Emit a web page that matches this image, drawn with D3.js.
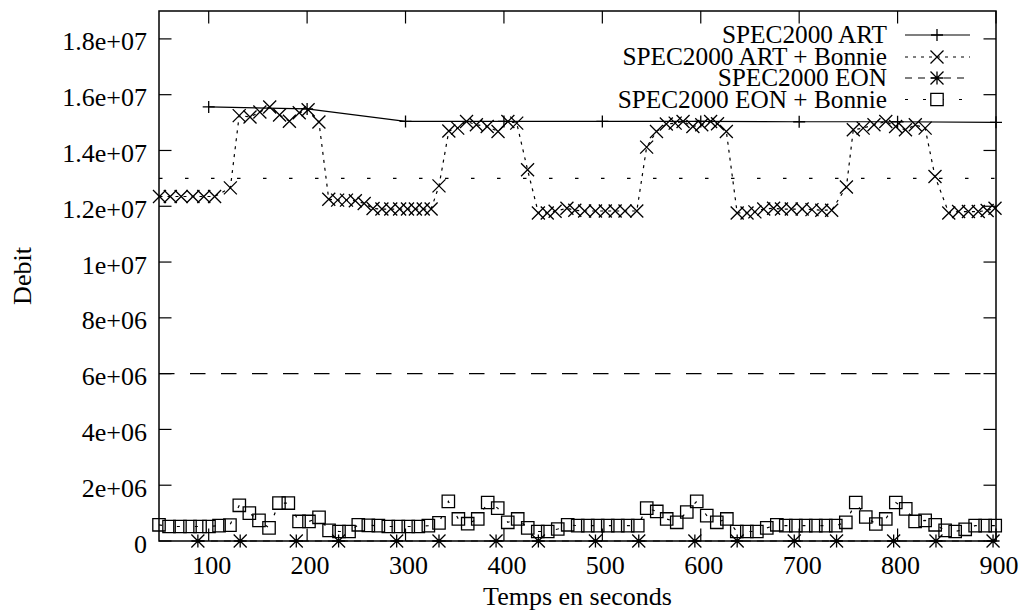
<!DOCTYPE html>
<html><head><meta charset="utf-8">
<script src="https://cdn.jsdelivr.net/npm/d3@7"></script>
<style>
body{margin:0;background:#fff}
text{font-family:"Liberation Serif","Times New Roman",serif;fill:#000}
</style>
</head><body>
<svg id="chart" width="1020" height="612"></svg>
<script>
// ---------------- data ----------------
const seriesNames = ["SPEC2000 ART", "SPEC2000 ART + Bonnie", "SPEC2000 EON", "SPEC2000 EON + Bonnie"];

const xTickValues = [100, 200, 300, 400, 500, 600, 700, 800, 900];
const yTickValues = [0, 2e6, 4e6, 6e6, 8e6, 1e7, 1.2e7, 1.4e7, 1.6e7, 1.8e7];
const yTickLabels = ["0", "2e+06", "4e+06", "6e+06", "8e+06", "1e+07", "1.2e+07", "1.4e+07", "1.6e+07", "1.8e+07"];

// SPEC2000 ART  [time, debit]
const art = [[100,1.556e7],[200,1.549e7],[300,1.504e7],[400,1.504e7],[500,1.504e7],
             [600,1.504e7],[700,1.503e7],[800,1.503e7],[900,1.501e7]];

// SPEC2000 ART + Bonnie
const artBonnie = [
 [50,1.235e7],[61,1.235e7],[72,1.235e7],[84,1.235e7],[95,1.235e7],[106,1.235e7],
 [122,1.266e7],
 [131,1.525e7],[142,1.52e7],[152,1.538e7],[162,1.556e7],[172,1.527e7],[182,1.505e7],[192,1.535e7],[201,1.546e7],[212,1.502e7],
 [222,1.225e7],[231,1.222e7],[240,1.222e7],[249,1.22e7],[258,1.21e7],
 [267,1.192e7],[276,1.19e7],[285,1.19e7],[294,1.19e7],[302,1.19e7],[310,1.19e7],[318,1.19e7],[326,1.19e7],
 [334,1.273e7],
 [344,1.47e7],[353,1.48e7],[362,1.504e7],[372,1.492e7],[383,1.486e7],[394,1.468e7],[404,1.504e7],[413,1.498e7],
 [424,1.331e7],
 [435,1.176e7],[444,1.176e7],[452,1.182e7],[464,1.193e7],[472,1.186e7],[482,1.183e7],[493,1.183e7],[503,1.183e7],[513,1.183e7],[523,1.183e7],[535,1.183e7],
 [545,1.412e7],
 [555,1.468e7],[565,1.495e7],[574,1.498e7],[582,1.504e7],[592,1.486e7],[601,1.492e7],[610,1.504e7],[617,1.496e7],[626,1.468e7],
 [637,1.176e7],[647,1.176e7],[655,1.18e7],[664,1.19e7],[674,1.193e7],[682,1.19e7],[692,1.19e7],[703,1.19e7],[713,1.188e7],[723,1.186e7],[733,1.186e7],
 [748,1.269e7],
 [755,1.474e7],[765,1.48e7],[776,1.492e7],[788,1.504e7],[798,1.486e7],[808,1.474e7],[818,1.492e7],[828,1.48e7],
 [838,1.307e7],
 [852,1.176e7],[862,1.181e7],[872,1.181e7],[882,1.181e7],[891,1.185e7],[899,1.193e7]
];

// SPEC2000 EON
const eon = [[89,0],[132,0],[189,0],[232,0],[291,0],[334,0],[392,0],[435,0],[493,0],
             [537,0],[594,0],[637,0],[695,0],[738,0],[796,0],[839,0],[897,0]];

// SPEC2000 EON + Bonnie
const eonBonnie = [
 [49.5,5.8e5],[59.7,5.2e5],[70.8,5.2e5],[81,5.2e5],[91.2,5.2e5],[100.3,5.2e5],[110.5,5.5e5],[121.6,5.7e5],
 [131.1,1.28e6],[141.3,1.0e6],[151.1,7.4e5],[161.3,4.7e5],[171.4,1.36e6],[180.9,1.36e6],[191.8,7.0e5],[201.9,7.0e5],
 [212.1,8.5e5],[222.3,3.8e5],[232.4,3.4e5],[242.6,3.4e5],[252,5.8e5],[262.2,5.6e5],[272.4,5.5e5],[282.5,5.2e5],
 [292.7,5.2e5],[302.8,5.2e5],[313,5.2e5],[323.2,5.5e5],
 [334,6.5e5],[343.5,1.42e6],[353.7,7.9e5],[363.2,6.2e5],[373.4,7.9e5],[383.5,1.38e6],[393.7,1.18e6],[403.9,6.7e5],
 [414,7.9e5],[424.2,4.7e5],[434.4,3.4e5],[444.5,3.4e5],[454.7,4.3e5],[464.8,5.8e5],[475,5.5e5],[485.2,5.5e5],
 [495.3,5.5e5],[505.5,5.5e5],[515.7,5.5e5],[525.8,5.5e5],[536,5.5e5],
 [545.1,1.18e6],[555.3,1.06e6],[565.4,7.9e5],[575.6,6.7e5],[585.8,1.04e6],[595.9,1.42e6],[606.1,9.1e5],
 [616.3,6.7e5],[626.5,7.9e5],[636.6,3.4e5],[646.8,3.4e5],[657,3.4e5],[667.1,4.7e5],[677.3,5.8e5],[686.4,5.5e5],
 [696.6,5.5e5],[706.7,5.5e5],[716.9,5.5e5],[727,5.5e5],[737.2,5.5e5],[747.4,6.7e5],
 [757.5,1.38e6],[767.7,8.6e5],[777.9,6.1e5],[788,7.9e5],[798.2,1.38e6],[808.3,1.15e6],[817.8,7.0e5],[828,7.4e5],
 [838.2,5.8e5],[848.3,3.8e5],[858.5,3.4e5],[868.7,4.2e5],[878.8,5.5e5],[889,5.5e5],[899.2,5.5e5]
];

// horizontal reference levels
const refLevels = [1.3e7, 6e6];

// ---------------- drawing ----------------
const svg = d3.select("#chart");
const L = 159, R = 996, T = 11, B = 541;
const FS = 26, LFS = 25.3;

const x = d3.scaleLinear().domain([49.5, 900]).range([L, R]);
const y = d3.scaleLinear().domain([0, 1.9e7]).range([B, T]);

const markers = {
  plus:  s => `M${-s},0H${s}M0,${-s}V${s}`,
  cross: s => `M${-s},${-s}L${s},${s}M${-s},${s}L${s},${-s}`,
  star:  s => `M${-s},0H${s}M0,${-s}V${s}M${-s},${-s}L${s},${s}M${-s},${s}L${s},${-s}`,
  box:   s => `M${-s},${-s}H${s}V${s}H${-s}Z`
};
const styles = [
  {data: art,       dash: null,   marker: "plus",  size: 6},
  {data: artBonnie, dash: "3,5",  marker: "cross", size: 6.5},
  {data: eon,       dash: "7,6",  marker: "star",  size: 6.5},
  {data: eonBonnie, dash: "3,15", marker: "box",   size: 6.2}
];
const refDash = ["3.5,22.5", "15.5,15.5"];

// ticks (gnuplot style: inward, mirrored)
const tickLen = 12.5;
const axes = svg.append("g").attr("stroke", "#000").attr("stroke-width", 1.2);
xTickValues.forEach(v => {
  axes.append("line").attr("x1", x(v)).attr("x2", x(v)).attr("y1", B).attr("y2", B - tickLen);
  axes.append("line").attr("x1", x(v)).attr("x2", x(v)).attr("y1", T).attr("y2", T + tickLen);
});
yTickValues.forEach(v => {
  axes.append("line").attr("x1", L).attr("x2", L + tickLen).attr("y1", y(v)).attr("y2", y(v));
  axes.append("line").attr("x1", R).attr("x2", R - tickLen).attr("y1", y(v)).attr("y2", y(v));
});

// tick labels via d3 axes
const xl = svg.append("g").attr("transform", `translate(0,${B})`)
  .call(d3.axisBottom(x).tickValues(xTickValues).tickSize(0).tickFormat(""));
xl.select(".domain").remove();
xl.selectAll(".tick line").remove();
xl.selectAll(".tick text").remove();
xl.selectAll(".tick").append("text")
  .attr("x", 2.5).attr("y", 33).attr("text-anchor", "middle").attr("font-size", FS)
  .text(d => d);

const yl = svg.append("g").attr("transform", `translate(${L},0)`)
  .call(d3.axisLeft(y).tickValues(yTickValues).tickSize(0).tickFormat(""));
yl.select(".domain").remove();
yl.selectAll(".tick line").remove();
yl.selectAll(".tick text").remove();
yl.selectAll(".tick").append("text")
  .attr("x", -12).attr("y", 11).attr("text-anchor", "end").attr("font-size", FS)
  .text(d => yTickLabels[yTickValues.indexOf(d)]);

// axis titles
svg.append("text").attr("x", (L + R) / 2).attr("y", 605).attr("text-anchor", "middle")
  .attr("font-size", FS).text("Temps en seconds");
svg.append("text").attr("transform", `translate(31,${(T + B) / 2}) rotate(-90)`)
  .attr("text-anchor", "middle").attr("font-size", FS).text("Debit");

// reference levels
refLevels.forEach((v, i) => {
  svg.append("line").attr("x1", L).attr("x2", R).attr("y1", y(v)).attr("y2", y(v))
    .attr("stroke", "#000").attr("stroke-width", 1.2).attr("stroke-dasharray", refDash[i]);
});

// series
const line = d3.line().x(d => x(d[0])).y(d => y(d[1]));
styles.forEach(s => {
  svg.append("path").datum(s.data).attr("d", line)
    .attr("fill", "none").attr("stroke", "#000").attr("stroke-width", 1.2)
    .attr("stroke-dasharray", s.dash);
  svg.append("g").selectAll("path").data(s.data).join("path")
    .attr("transform", d => `translate(${x(d[0])},${y(d[1])})`)
    .attr("d", markers[s.marker](s.size))
    .attr("fill", "none").attr("stroke", "#000").attr("stroke-width", 1.3);
});

// border
svg.append("rect").attr("x", L).attr("y", T).attr("width", R - L).attr("height", B - T)
  .attr("fill", "none").attr("stroke", "#000").attr("stroke-width", 1.5);

// legend
const legendY = [35, 57, 78, 99.5];
seriesNames.forEach((name, i) => {
  const ly = legendY[i];
  svg.append("text").attr("x", 887).attr("y", ly).attr("dy", "0.33em")
    .attr("text-anchor", "end").attr("font-size", LFS).text(name);
  svg.append("line").attr("x1", 905).attr("x2", 970).attr("y1", ly).attr("y2", ly)
    .attr("stroke", "#000").attr("stroke-width", 1.2).attr("stroke-dasharray", styles[i].dash);
  svg.append("path").attr("transform", `translate(937,${ly})`)
    .attr("d", markers[styles[i].marker](styles[i].size))
    .attr("fill", i === 3 ? "#fff" : "none").attr("stroke", "#000").attr("stroke-width", 1.3);
});
</script>
</body></html>
